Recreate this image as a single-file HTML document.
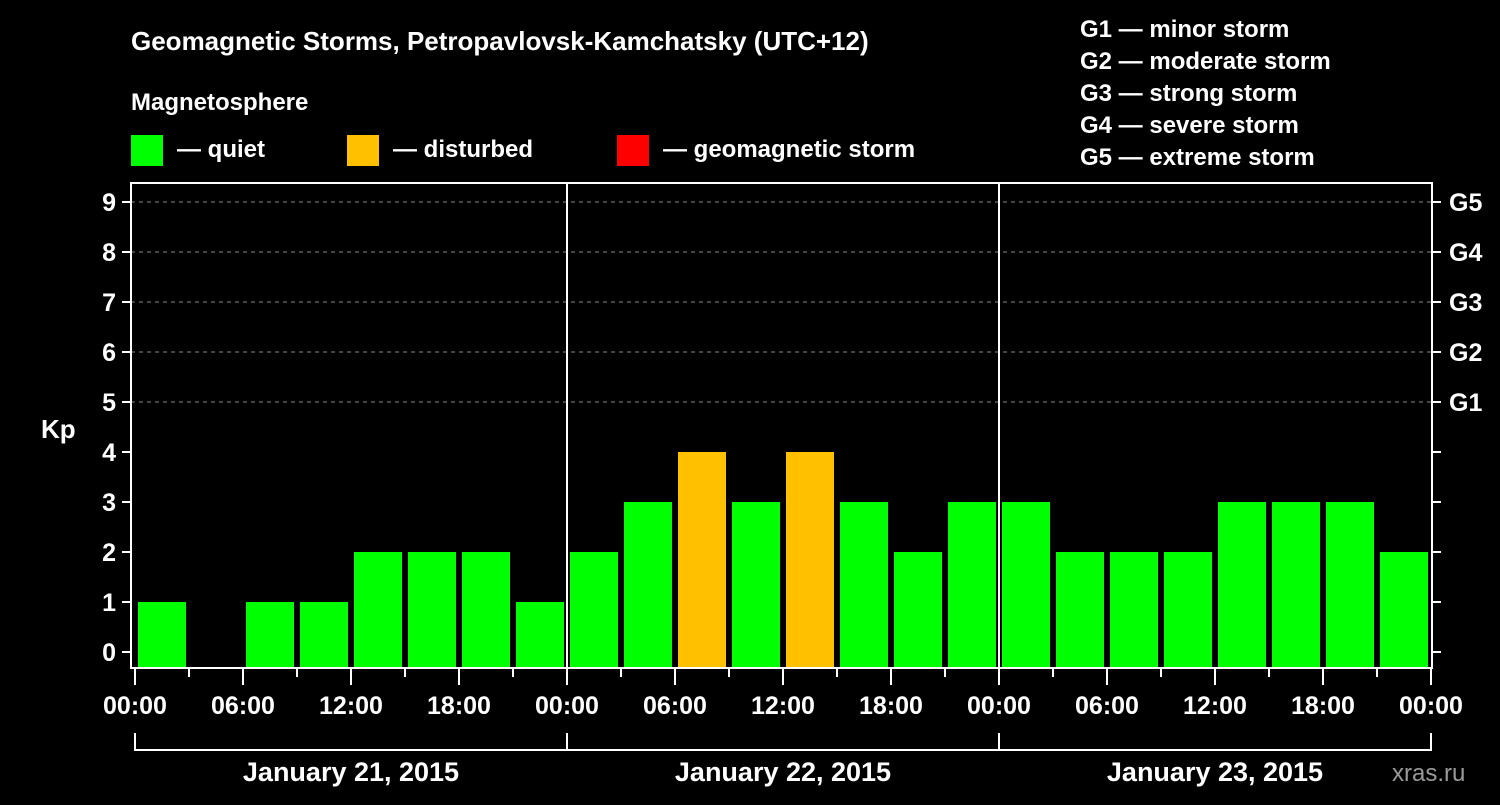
<!DOCTYPE html>
<html><head><meta charset="utf-8"><style>
body{margin:0;background:#000;}
svg text{font-family:"Liberation Sans",sans-serif;font-weight:bold;fill:#fff;}
</style></head><body>
<svg width="1500" height="800" viewBox="0 0 1500 800">
<g id="legend">
<text x="131" y="50" font-size="26">Geomagnetic Storms, Petropavlovsk-Kamchatsky (UTC+12)</text>
<text x="131" y="110" font-size="24">Magnetosphere</text>
<rect x="131" y="135" width="32" height="31" fill="#00ff00"/>
<text x="177" y="157" font-size="24">— quiet</text>
<rect x="347" y="135" width="32" height="31" fill="#ffc000"/>
<text x="393" y="157" font-size="24">— disturbed</text>
<rect x="617" y="135" width="32" height="31" fill="#ff0000"/>
<text x="663" y="157" font-size="24">— geomagnetic storm</text>
<text x="1080" y="37" font-size="24">G1 — minor storm</text>
<text x="1080" y="69" font-size="24">G2 — moderate storm</text>
<text x="1080" y="101" font-size="24">G3 — strong storm</text>
<text x="1080" y="133" font-size="24">G4 — severe storm</text>
<text x="1080" y="165" font-size="24">G5 — extreme storm</text>
</g>
<g id="plot"></g>
<text x="41" y="438" font-size="26">Kp</text>
<text x="1392" y="781" font-size="24" fill="#fff" style="font-weight:normal;opacity:0.6">xras.ru</text>
</svg>
<script>
const kpValues=[1,0,1,1,2,2,2,1, 2,3,4,3,4,3,2,3, 3,2,2,2,3,3,3,2];
const dayLabels=["January 21, 2015","January 22, 2015","January 23, 2015"];
const hourLabels=["00:00","06:00","12:00","18:00"];
const yTicks=[0,1,2,3,4,5,6,7,8,9];
const gLabels=[[5,"G1"],[6,"G2"],[7,"G3"],[8,"G4"],[9,"G5"]];
const NS="http://www.w3.org/2000/svg";
const g=document.getElementById('plot');
const X0=135,SLOT=54,L=131,R=1432,T=183,B=668;
const x=i=>X0+i*SLOT;
const y=v=>652-v*50;
function mk(t,a,txt){const e=document.createElementNS(NS,t);for(const k in a)e.setAttribute(k,a[k]);if(txt!=null)e.textContent=txt;g.appendChild(e);return e;}
// gridlines
yTicks.forEach(v=>{
 if(v>=5){const l=mk('line',{x1:L,x2:R,y1:y(v),y2:y(v),stroke:'#888','stroke-dasharray':'4,4','stroke-width':1});
 
 }
 const t=mk('line',{x1:122,x2:L,y1:y(v),y2:y(v),stroke:'#fff','stroke-width':2});
 
 
 const tx=mk('text',{x:116,y:y(v)+9,'font-size':25,'text-anchor':'end'},String(v));
 
 
 const rt=mk('line',{x1:R,x2:1441,y1:y(v),y2:y(v),stroke:'#fff','stroke-width':2});
 
 
});
gLabels.forEach(([v,s])=>{
 const t=mk('text',{x:1449,y:y(v)+9,'font-size':25},s);
 
 
});
// bars
kpValues.forEach((v,i)=>{
 const c=v>=5?'#ff0000':(v>=4?'#ffc000':'#00ff00');
 const top=y(v)-15*(v>0?0:0);
 const r=mk('rect',{x:x(i)+3,y:v>0?y(v):667,width:48,height:v>0?667-y(v):0,fill:c});
 
 
});
// frame
const f=mk('rect',{x:L,y:T,width:R-L,height:B-T,fill:'none',stroke:'#fff','stroke-width':2});


[1,2].forEach(d=>{const l=mk('line',{x1:x(d*8),x2:x(d*8),y1:T,y2:B,stroke:'#fff','stroke-width':2});
 
 });
// x ticks
for(let i=0;i<=24;i++){
 const major=i%2===0;
 const t=mk('line',{x1:x(i),x2:x(i),y1:B,y2:major?685:677,stroke:'#fff','stroke-width':2});
 
 
 if(major){const lab=i===24?hourLabels[0]:hourLabels[(i/2)%4];
  const tx=mk('text',{x:x(i),y:714,'font-size':25,'text-anchor':'middle'},lab);
  
  }
}
// day brackets
dayLabels.forEach((s,d)=>{
 const a=x(d*8),b=x(d*8+8);
 const p=mk('path',{d:`M${a},733V750H${b}`+(d===2?'V733':''),fill:'none',stroke:'#fff','stroke-width':2});
 
 
 const tx=mk('text',{x:(a+b)/2,y:781,'font-size':27,'text-anchor':'middle'},s);
 
 
});
</script>
</body></html>
